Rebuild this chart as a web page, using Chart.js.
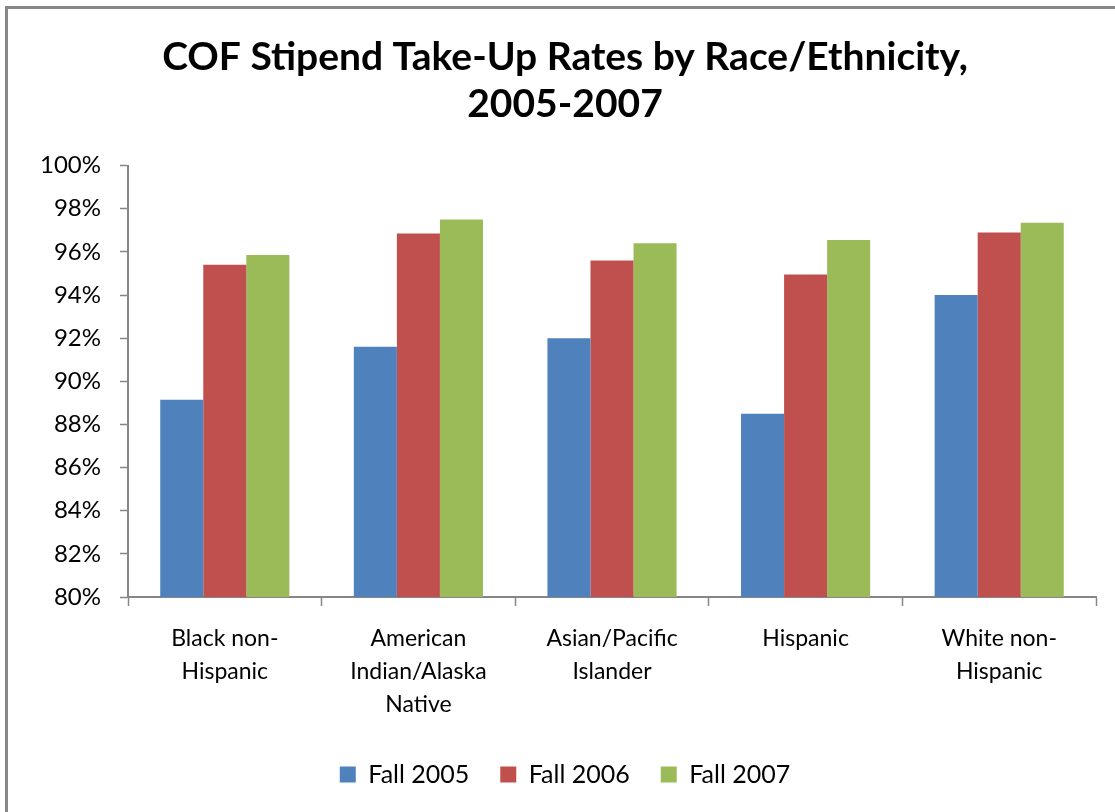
<!DOCTYPE html>
<html>
<head>
<meta charset="utf-8">
<script src="https://cdn.jsdelivr.net/npm/chart.js@4"></script>
<style>
  html, body { margin: 0; padding: 0; background: #fff; }
  #wrap { position: relative; width: 1115px; height: 812px; }
  #frame { position: absolute; left: 5px; top: 6px; right: 0; bottom: 0;
           border-left: 3px solid #878787; border-top: 3px solid #878787; }
  canvas { position: absolute; left: 0; top: 0; }
</style>
</head>
<body>
<div id="wrap">
  <div id="frame"></div>
  <canvas id="grafico" width="1115" height="812"></canvas>
</div>
<script>
const grupos = [
  ['Black non-', 'Hispanic'],
  ['American', 'Indian/Alaska', 'Native'],
  ['Asian/Pacific', 'Islander'],
  ['Hispanic'],
  ['White non-', 'Hispanic']
];
const fall2005 = [89.15, 91.6, 92.0, 88.5, 94.0];
const fall2006 = [95.4, 96.85, 95.6, 94.95, 96.9];
const fall2007 = [95.85, 97.5, 96.4, 96.55, 97.35];
const ticksY = [80, 82, 84, 86, 88, 90, 92, 94, 96, 98, 100];

const fonte = 'Lato, "Open Sans", sans-serif';
const eixo = '#868686';

const ctx = document.getElementById('grafico');

new Chart(ctx, {
  type: 'bar',
  data: {
    labels: grupos,
    datasets: [{
      label: 'Fall 2005',
      data: fall2005,
      backgroundColor: '#4F81BD'
    }, {
      label: 'Fall 2006',
      data: fall2006,
      backgroundColor: '#C0504D'
    }, {
      label: 'Fall 2007',
      data: fall2007,
      backgroundColor: '#9BBB59'
    }]
  },
  options: {
    responsive: false,
    animation: false,
    datasets: {
      bar: { categoryPercentage: 0.667, barPercentage: 1.0 }
    },
    // padding esquerda grande para centralizar titulo e legenda como no original
    layout: { padding: { top: 0, right: 19, bottom: 15, left: 34 } },
    plugins: {
      title: {
        display: true,
        text: ['COF Stipend Take-Up Rates by Race/Ethnicity,', '2005-2007'],
        color: '#000',
        font: { family: fonte, size: 39, weight: 'bold', lineHeight: 1.2 },
        padding: { top: 34, bottom: 38 }
      },
      legend: {
        position: 'bottom',
        labels: {
          color: '#000',
          font: { family: fonte, size: 25 },
          boxWidth: 16,
          boxHeight: 16,
          padding: 31
        }
      },
      tooltip: { enabled: false }
    },
    scales: {
      x: {
        afterFit: (scale) => { scale.height = 134; },
        grid: {
          display: true,
          drawOnChartArea: false,
          offset: true,
          color: eixo,
          tickLength: 9,
          tickWidth: 1.5
        },
        border: { display: true, color: eixo, width: 2 },
        ticks: {
          color: '#000',
          font: { family: fonte, size: 23, lineHeight: 1.43 },
          padding: 16,
          maxRotation: 0,
          autoSkip: false
        }
      },
      y: {
        min: 80,
        max: 100,
        afterFit: (scale) => { scale.width = 94; },
        afterBuildTicks: (scale) => { scale.ticks = ticksY.map(v => ({ value: v })); },
        grid: {
          display: true,
          drawOnChartArea: false,
          color: eixo,
          tickLength: 8,
          tickWidth: 1.5
        },
        border: { display: true, color: eixo, width: 2 },
        ticks: {
          color: '#000',
          font: { family: fonte, size: 24 },
          padding: 19,
          callback: (v) => v + '%'
        }
      }
    }
  }
});
</script>
</body>
</html>
